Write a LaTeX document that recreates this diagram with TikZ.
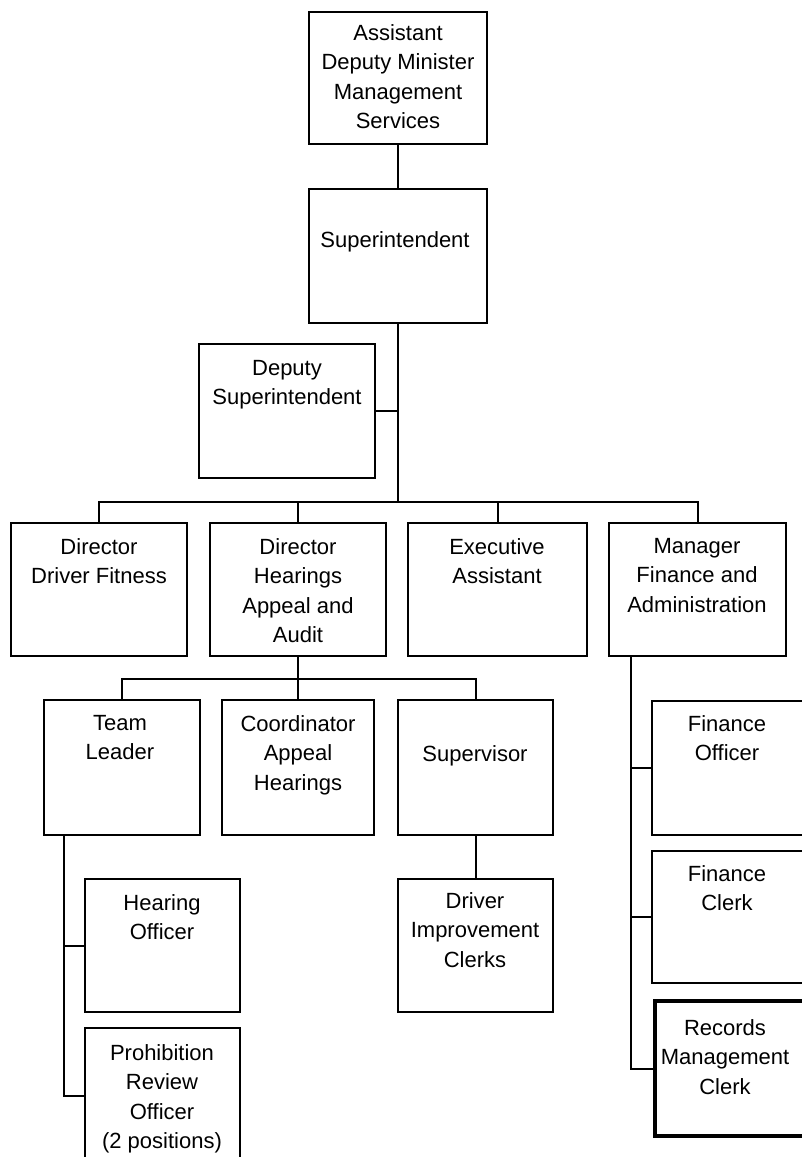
\documentclass[tikz,border=0pt]{standalone}
\usepackage{fontspec}
\setmainfont{Liberation Sans}
\begin{document}
\begin{tikzpicture}[x=1pt,y=-1pt,
  box/.style={draw=black, line width=1.7pt, inner sep=0pt, fill=none},
  thickbox/.style={draw=black, line width=4.5pt, inner sep=0pt},
  lbl/.style={anchor=north, align=center, inner sep=0pt, text=black,
    font=\fontsize{22}{29.5}\selectfont},
  conn/.style={draw=black, line width=2pt}]
\useasboundingbox (0,0) rectangle (802,1157);
\clip (0,0) rectangle (802,1157);
\fill[white] (0,0) rectangle (802,1157);
% boxes
\newcommand{\orgbox}[6][box]{\node[#1, minimum width=#5-#3, minimum height=#6-#4] (#2) at ({(#3+#5)/2},{(#4+#6)/2}) {};}
\orgbox{adm}{309}{12}{487}{144}
\orgbox{sup}{309}{189}{487}{323}
\orgbox{dep}{199}{344}{375}{478}
\orgbox{df}{11}{523}{187}{656}
\orgbox{dh}{210}{523}{386}{656}
\orgbox{ea}{408}{523}{587}{656}
\orgbox{mfa}{609}{523}{786}{656}
\orgbox{tl}{44}{700}{200}{835}
\orgbox{cah}{222}{700}{374}{835}
\orgbox{sv}{398}{700}{553}{835}
\orgbox{ho}{85}{879}{240}{1012}
\orgbox{pro}{85}{1028}{240}{1164}
\orgbox{dic}{398}{879}{553}{1012}
\orgbox{fo}{652}{701}{830}{835}
\orgbox{fc}{652}{851}{830}{983}
\orgbox[thickbox]{rmc}{655}{1001}{830}{1136}
% labels
\node[lbl] (adm-t) at (398,24) {Assistant\\Deputy Minister\\Management\\Services};
\node[lbl] (sup-t) at (395,231) {Superintendent};
\node[lbl] (dep-t) at (287,360) {Deputy\\Superintendent};
\node[lbl] (df-t) at (99,538) {Director\\Driver Fitness};
\node[lbl] (dh-t) at (298,538) {Director\\Hearings\\Appeal and\\Audit};
\node[lbl] (ea-t) at (497,538) {Executive\\Assistant};
\node[lbl] (mfa-t) at (697,538) {Manager\\Finance and\\Administration};
\node[lbl] (tl-t) at (120,715) {Team\\Leader};
\node[lbl] (cah-t) at (298,715) {Coordinator\\Appeal\\Hearings};
\node[lbl] (sv-t) at (475,745) {Supervisor};
\node[lbl] (ho-t) at (162,894) {Hearing\\Officer};
\node[lbl] (pro-t) at (162,1044) {Prohibition\\Review\\Officer\\(2 positions)};
\node[lbl] (dic-t) at (475,892) {Driver\\Improvement\\Clerks};
\node[lbl] (fo-t) at (727,715) {Finance\\Officer};
\node[lbl] (fc-t) at (727,865) {Finance\\Clerk};
\node[lbl] (rmc-t) at (725,1019) {Records\\Management\\Clerk};
% connectors
\coordinate (b1) at (398,502);
\coordinate (b2) at (298,679);
\draw[conn] (adm.south) -- (sup.north);
\draw[conn] (sup.south) -- (b1);
\draw[conn] (dep.east) -- (dep.east -| sup.south);
\draw[conn] (df.north) |- (b1) -| (mfa.north);
\draw[conn] (dh.north) -- (dh.north |- b1);
\draw[conn] (ea.north) -- (ea.north |- b1);
\draw[conn] (dh.south) -- (b2);
\draw[conn] (tl.north) |- (b2) -| (sv.north);
\draw[conn] (cah.north) -- (cah.north |- b2);
\draw[conn] (sv.south) -- (dic.north);
\coordinate (tlv) at (64,835);
\draw[conn] (tlv) |- (pro.west);
\draw[conn] (tlv |- ho.west) -- (ho.west);
\coordinate (mv) at (631,656);
\draw[conn] (mv) |- (rmc.west);
\draw[conn] (mv |- fo.west) -- (fo.west);
\draw[conn] (mv |- fc.west) -- (fc.west);
\end{tikzpicture}
\end{document}
